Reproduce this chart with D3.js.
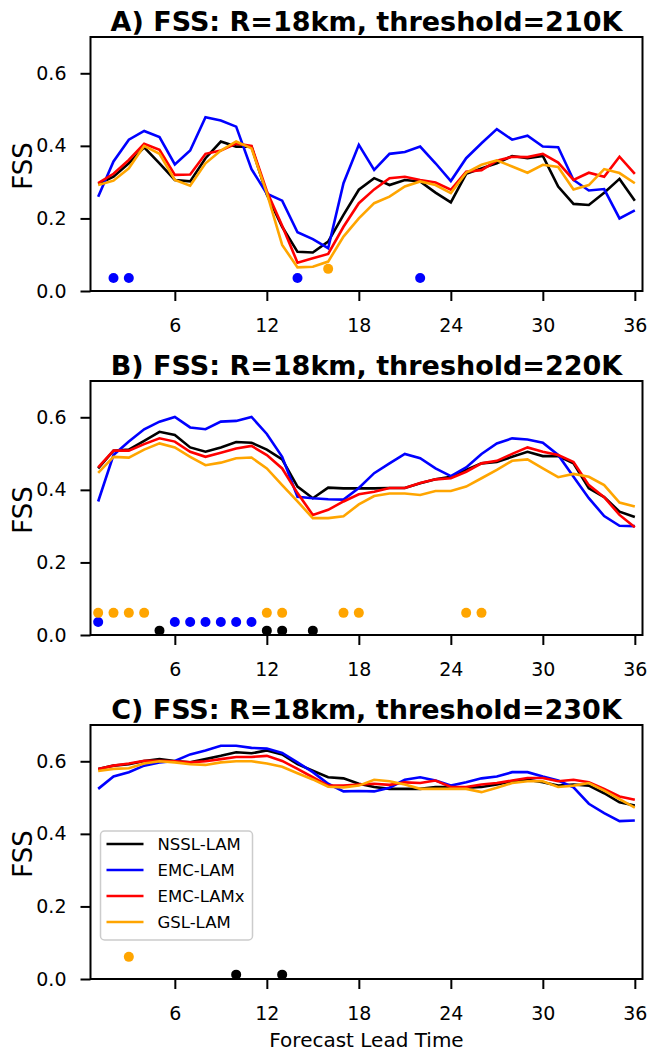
<!DOCTYPE html>
<html>
<head>
<meta charset="utf-8">
<script src="https://cdn.jsdelivr.net/npm/d3@7"></script>
<style>
  body { margin: 0; background: #fff; }
  text { font-family: "DejaVu Sans", sans-serif; fill: #000; }
</style>
</head>
<body>
<script>
// forecast lead time (h)
var leadTimes = [1, 2, 3, 4, 5, 6, 7, 8, 9, 10, 11, 12, 13, 14, 15, 16, 17, 18,
  19, 20, 21, 22, 23, 24, 25, 26, 27, 28, 29, 30, 31, 32, 33, 34, 35, 36];
var xTicks = [6, 12, 18, 24, 30, 36];
var yTicks = [0.0, 0.2, 0.4, 0.6];
var models = ['NSSL-LAM', 'EMC-LAM', 'EMC-LAMx', 'GSL-LAM'];
var titles = ['A) FSS: R=18km, threshold=210K', 'B) FSS: R=18km, threshold=220K', 'C) FSS: R=18km, threshold=230K'];

// A) 210K
var nsslA = [0.295, 0.315, 0.352, 0.396, 0.352, 0.306, 0.302, 0.366, 0.412, 0.398, 0.398, 0.266, 0.177, 0.108, 0.106, 0.136, 0.21, 0.279,
  0.311, 0.292, 0.306, 0.302, 0.271, 0.244, 0.323, 0.338, 0.352, 0.372, 0.366, 0.372, 0.288, 0.24, 0.237, 0.271, 0.309, 0.249];
var emcA = [0.26, 0.357, 0.417, 0.441, 0.424, 0.349, 0.387, 0.479, 0.47, 0.453, 0.336, 0.268, 0.249, 0.162, 0.143, 0.118, 0.297, 0.403,
  0.334, 0.378, 0.383, 0.398, 0.352, 0.303, 0.366, 0.407, 0.446, 0.417, 0.428, 0.398, 0.396, 0.306, 0.277, 0.281, 0.2, 0.222];
var emcxA = [0.297, 0.323, 0.361, 0.406, 0.389, 0.32, 0.321, 0.378, 0.387, 0.406, 0.4, 0.275, 0.18, 0.078, 0.09, 0.102, 0.177, 0.242,
  0.28, 0.311, 0.315, 0.306, 0.299, 0.279, 0.329, 0.333, 0.359, 0.37, 0.369, 0.378, 0.354, 0.306, 0.326, 0.315, 0.37, 0.323];
var gslA = [0.292, 0.304, 0.338, 0.4, 0.378, 0.306, 0.29, 0.352, 0.387, 0.412, 0.393, 0.27, 0.127, 0.065, 0.067, 0.081, 0.15, 0.2,
  0.242, 0.26, 0.288, 0.302, 0.292, 0.27, 0.326, 0.348, 0.36, 0.343, 0.326, 0.348, 0.342, 0.28, 0.292, 0.336, 0.325, 0.297];

// B) 220K
var nsslB = [0.459, 0.508, 0.511, 0.535, 0.56, 0.551, 0.517, 0.505, 0.517, 0.532, 0.53, 0.511, 0.484, 0.409, 0.377, 0.406, 0.404, 0.404,
  0.404, 0.405, 0.405, 0.418, 0.429, 0.436, 0.455, 0.473, 0.477, 0.491, 0.505, 0.493, 0.493, 0.473, 0.404, 0.38, 0.34, 0.325];
var emcB = [0.368, 0.496, 0.533, 0.567, 0.588, 0.601, 0.572, 0.567, 0.588, 0.59, 0.601, 0.554, 0.491, 0.381, 0.377, 0.374, 0.373, 0.405,
  0.446, 0.473, 0.499, 0.487, 0.459, 0.438, 0.462, 0.499, 0.528, 0.542, 0.539, 0.53, 0.496, 0.436, 0.377, 0.328, 0.301, 0.3];
var emcxB = [0.462, 0.508, 0.508, 0.526, 0.542, 0.533, 0.505, 0.491, 0.502, 0.514, 0.521, 0.496, 0.459, 0.391, 0.331, 0.345, 0.368, 0.388,
  0.395, 0.405, 0.405, 0.419, 0.429, 0.432, 0.45, 0.473, 0.48, 0.499, 0.517, 0.505, 0.496, 0.477, 0.413, 0.38, 0.331, 0.297];
var gslB = [0.447, 0.491, 0.489, 0.511, 0.528, 0.517, 0.491, 0.468, 0.475, 0.487, 0.489, 0.459, 0.413, 0.368, 0.322, 0.322, 0.327, 0.36,
  0.383, 0.39, 0.39, 0.386, 0.397, 0.397, 0.409, 0.432, 0.455, 0.48, 0.484, 0.459, 0.435, 0.444, 0.436, 0.413, 0.365, 0.354];

// C) 230K
var nsslC = [0.579, 0.588, 0.592, 0.601, 0.606, 0.601, 0.597, 0.606, 0.615, 0.625, 0.622, 0.63, 0.619, 0.592, 0.574, 0.556, 0.553, 0.538,
  0.529, 0.524, 0.524, 0.524, 0.529, 0.529, 0.527, 0.529, 0.536, 0.545, 0.549, 0.542, 0.533, 0.536, 0.533, 0.512, 0.487, 0.478];
var emcC = [0.524, 0.558, 0.57, 0.588, 0.597, 0.601, 0.619, 0.63, 0.643, 0.643, 0.637, 0.635, 0.623, 0.597, 0.57, 0.538, 0.517, 0.518,
  0.517, 0.527, 0.549, 0.556, 0.547, 0.533, 0.542, 0.553, 0.558, 0.57, 0.57, 0.558, 0.547, 0.528, 0.483, 0.457, 0.435, 0.437];
var emcxC = [0.579, 0.588, 0.594, 0.601, 0.601, 0.6, 0.597, 0.6, 0.606, 0.612, 0.612, 0.615, 0.601, 0.579, 0.556, 0.533, 0.533, 0.536,
  0.538, 0.535, 0.542, 0.54, 0.547, 0.529, 0.529, 0.536, 0.54, 0.547, 0.554, 0.554, 0.545, 0.549, 0.542, 0.524, 0.503, 0.494];
var gslC = [0.573, 0.579, 0.581, 0.594, 0.6, 0.597, 0.592, 0.59, 0.597, 0.6, 0.6, 0.594, 0.585, 0.567, 0.55, 0.53, 0.528, 0.533,
  0.549, 0.545, 0.536, 0.524, 0.524, 0.524, 0.524, 0.515, 0.527, 0.54, 0.545, 0.545, 0.529, 0.533, 0.54, 0.519, 0.496, 0.472];

// lead times with significant differences (dots)
var sigNsslA = [], sigEmcA = [2, 3, 14, 22], sigEmcxA = [], sigGslA = [16];
var sigNsslB = [5, 12, 13, 15], sigEmcB = [1, 6, 7, 8, 9, 10, 11], sigEmcxB = [], sigGslB = [1, 2, 3, 4, 12, 13, 17, 18, 25, 26];
var sigNsslC = [10, 13], sigEmcC = [], sigEmcxC = [], sigGslC = [3];

var colors = ['#000000', '#0000ff', '#ff0000', '#ffa500'];
var dotLevel = [0.012, 0.036, -0.02, 0.061];

var panels = [
  { title: titles[0], series: [nsslA, emcA, emcxA, gslA], sig: [sigNsslA, sigEmcA, sigEmcxA, sigGslA], bottom: 291, legend: false },
  { title: titles[1], series: [nsslB, emcB, emcxB, gslB], sig: [sigNsslB, sigEmcB, sigEmcxB, sigGslB], bottom: 635, legend: false },
  { title: titles[2], series: [nsslC, emcC, emcxC, gslC], sig: [sigNsslC, sigEmcC, sigEmcxC, sigGslC], bottom: 979, legend: true }
];

var svg = d3.select('body').append('svg')
  .attr('width', 649)
  .attr('height', 1055);
svg.append('rect').attr('width', 649).attr('height', 1055).attr('fill', '#fff');

var left = 90.5, right = 642.5, ph = 254;
var x = d3.scaleLinear().domain([0.5, 36.5]).range([left, right]);

panels.forEach(function (p, pi) {
  var y = d3.scaleLinear().domain([0, 0.7]).range([p.bottom, p.bottom - ph]);
  var g = svg.append('g');

  var line = d3.line()
    .x(function (d, i) { return x(leadTimes[i]); })
    .y(function (d) { return y(d); });

  p.series.forEach(function (s, si) {
    g.append('path')
      .datum(s)
      .attr('d', line)
      .attr('fill', 'none')
      .attr('stroke', colors[si])
      .attr('stroke-width', 2.6)
      .attr('stroke-linejoin', 'miter');
  });

  p.sig.forEach(function (lts, si) {
    g.selectAll(null)
      .data(lts)
      .enter().append('circle')
      .attr('cx', function (d) { return x(d); })
      .attr('cy', y(dotLevel[si]))
      .attr('r', 5)
      .attr('fill', colors[si]);
  });

  // frame
  g.append('rect')
    .attr('x', left).attr('y', p.bottom - ph)
    .attr('width', right - left).attr('height', ph)
    .attr('fill', 'none').attr('stroke', '#000').attr('stroke-width', 2);

  var xa = g.append('g')
    .attr('transform', 'translate(0,' + p.bottom + ')')
    .call(d3.axisBottom(x).tickValues(xTicks).tickSize(10).tickPadding(18).tickFormat(d3.format('d')));
  var ya = g.append('g')
    .attr('transform', 'translate(' + left + ',0)')
    .call(d3.axisLeft(y).tickValues(yTicks).tickSize(10).tickPadding(14).tickFormat(d3.format('.1f')));
  [xa, ya].forEach(function (a) {
    a.select('.domain').remove();
    a.selectAll('line').attr('stroke', '#000').attr('stroke-width', 2);
    a.selectAll('text').attr('font-family', 'DejaVu Sans').attr('font-size', 19).attr('fill', '#000');
  });

  g.append('text')
    .attr('x', (left + right) / 2)
    .attr('y', p.bottom - ph - 6)
    .attr('text-anchor', 'middle')
    .attr('font-size', 27)
    .attr('font-weight', 'bold')
    .text(p.title);

  g.append('text')
    .attr('transform', 'translate(32,' + (p.bottom - ph / 2 + 2) + ') rotate(-90)')
    .attr('text-anchor', 'middle')
    .attr('font-size', 26)
    .text('FSS');

  if (p.legend) {
    var lg = g.append('g').attr('transform', 'translate(100.5,831)');
    lg.append('rect')
      .attr('width', 152).attr('height', 109)
      .attr('rx', 4)
      .attr('fill', '#fff').attr('fill-opacity', 0.8)
      .attr('stroke', '#cccccc').attr('stroke-width', 1.5);
    models.forEach(function (m, mi) {
      var ry = 13 + mi * 26;
      lg.append('line')
        .attr('x1', 6).attr('x2', 43).attr('y1', ry).attr('y2', ry)
        .attr('stroke', colors[mi]).attr('stroke-width', 2.6);
      lg.append('text')
        .attr('x', 57).attr('y', ry)
        .attr('dy', '0.36em')
        .attr('font-size', 16.5)
        .text(m);
    });
  }
});

svg.append('text')
  .attr('x', (left + right) / 2)
  .attr('y', 1047)
  .attr('text-anchor', 'middle')
  .attr('font-size', 20)
  .text('Forecast Lead Time');
</script>
</body>
</html>
